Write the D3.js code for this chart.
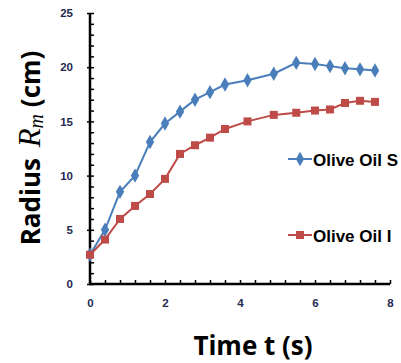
<!DOCTYPE html>
<html><head><meta charset="utf-8">
<script src="https://cdn.jsdelivr.net/npm/d3@7/dist/d3.min.js"></script>
<style>body{margin:0;background:#fff;}svg{display:block;}</style>
</head><body>
<script>
const times = [0, 0.4, 0.8, 1.2, 1.6, 2.0, 2.4, 2.8, 3.2, 3.6, 4.2, 4.9, 5.5, 6.0, 6.4, 6.8, 7.2, 7.6];
const oliveOilS = [2.7, 5.0, 8.5, 10.0, 13.1, 14.8, 15.9, 17.0, 17.7, 18.4, 18.8, 19.4, 20.4, 20.3, 20.1, 19.9, 19.8, 19.7];
const oliveOilI = [2.7, 4.1, 6.0, 7.2, 8.3, 9.7, 12.0, 12.8, 13.5, 14.3, 15.0, 15.6, 15.8, 16.0, 16.1, 16.7, 16.9, 16.8];
const seriesNames = ["Olive Oil S", "Olive Oil I"];
const xTicks = [0, 2, 4, 6, 8];
const yTicks = [0, 5, 10, 15, 20, 25];

const W = 401, H = 363;
const svg = d3.select("body").append("svg").attr("width", W).attr("height", H);
const x = d3.scaleLinear().domain([0, 8]).range([90, 390]);
const y = d3.scaleLinear().domain([0, 25]).range([284, 13]);
const tickColor = "#1f2a50";

// minor ticks
const gy = svg.append("g").attr("transform", "translate(90,0)");
gy.call(d3.axisRight(y).tickValues(d3.range(0, 26, 1)).tickSize(4).tickFormat(""))
  .call(g => g.select(".domain").remove())
  .selectAll("line").attr("stroke", "#000").attr("stroke-width", 1.5);
const gy2 = svg.append("g").attr("transform", "translate(90,0)");
gy2.call(d3.axisLeft(y).tickValues(yTicks).tickSize(3).tickPadding(14))
  .call(g => g.select(".domain").remove())
  .selectAll("line").attr("stroke", "#000").attr("stroke-width", 1.5);
gy2.selectAll("text").attr("font-family", "Liberation Sans, Arial, sans-serif").attr("font-size", 11.5).attr("font-weight", "bold").attr("fill", tickColor);

const gx = svg.append("g").attr("transform", "translate(0,284)");
gx.call(d3.axisTop(x).tickValues(d3.range(0, 8.01, 0.4)).tickSize(4).tickFormat(""))
  .call(g => g.select(".domain").remove())
  .selectAll("line").attr("stroke", "#000").attr("stroke-width", 1.5);
const gx2 = svg.append("g").attr("transform", "translate(0,284)");
gx2.call(d3.axisBottom(x).tickValues(xTicks).tickSize(0).tickPadding(15))
  .call(g => g.select(".domain").remove());
gx2.selectAll("text").attr("font-family", "Liberation Sans, Arial, sans-serif").attr("font-size", 11.5).attr("font-weight", "bold").attr("fill", tickColor);

// axis lines
svg.append("line").attr("x1", 90).attr("x2", 90).attr("y1", y(25)).attr("y2", y(0) + 1).attr("stroke", "#000").attr("stroke-width", 2.5);
svg.append("line").attr("x1", 89).attr("x2", x(8)).attr("y1", y(0)).attr("y2", y(0)).attr("stroke", "#000").attr("stroke-width", 2.5);

const colors = ["#4a7ebb", "#be4b48"];
const datas = [oliveOilS, oliveOilI];
const line = d3.line().x(d => x(d[0])).y(d => y(d[1]));
const diamond = d3.symbol().type(d3.symbolDiamond).size(60);
const square = d3.symbol().type(d3.symbolSquare).size(64);

datas.forEach((vals, i) => {
  const pts = times.map((t, j) => [t, vals[j]]);
  svg.append("path").datum(pts).attr("d", line).attr("fill", "none").attr("stroke", colors[i]).attr("stroke-width", 2);
  svg.append("g").selectAll("path").data(pts).join("path")
    .attr("transform", d => `translate(${x(d[0])},${y(d[1])})`)
    .attr("d", i === 0 ? diamond : square).attr("fill", colors[i]);
});

// legend
const legY = [159, 235];
seriesNames.forEach((n, i) => {
  svg.append("line").attr("x1", 288).attr("x2", 312).attr("y1", legY[i]).attr("y2", legY[i]).attr("stroke", colors[i]).attr("stroke-width", 2);
  svg.append("path").attr("transform", `translate(300,${legY[i]})`).attr("d", i === 0 ? diamond : square).attr("fill", colors[i]);
  svg.append("text").attr("x", 313).attr("y", legY[i] + 7).text(n)
    .attr("font-family", "Liberation Sans, Arial, sans-serif").attr("font-size", 17).attr("font-weight", "bold").attr("fill", "#000");
});

// axis titles
svg.append("text").attr("x", 253).attr("y", 355).attr("text-anchor", "middle")
  .attr("font-family", "Open Sans, DejaVu Sans, sans-serif").attr("font-size", 26).attr("font-weight", "bold").text("Time t (s)");

const yt = svg.append("text").attr("transform", "translate(40,148) rotate(-90)").attr("text-anchor", "middle")
  .attr("font-family", "Open Sans, DejaVu Sans, sans-serif").attr("font-size", 26).attr("font-weight", "bold");
yt.append("tspan").text("Radius ");
yt.append("tspan").attr("font-family", "Liberation Serif, serif").attr("font-style", "italic").attr("font-weight", "normal").attr("font-size", 31).attr("dx", 4).text("R");
yt.append("tspan").attr("font-family", "Liberation Serif, serif").attr("font-style", "italic").attr("font-weight", "normal").attr("font-size", 20).attr("dy", 3).text("m");
yt.append("tspan").attr("dy", -3).text(" (cm)");
</script>
</body></html>
